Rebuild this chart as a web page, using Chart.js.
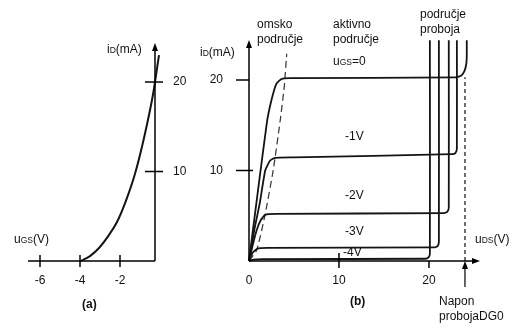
<!DOCTYPE html>
<html><head><meta charset="utf-8">
<script src="https://cdn.jsdelivr.net/npm/chart.js@4"></script>
<style>
html,body{margin:0;padding:0;background:#fff;}
#wrap{position:relative;width:527px;height:333px;overflow:hidden;font-family:"Liberation Sans",Arial,sans-serif;font-size:12px;color:#111;}
canvas{position:absolute;left:0;top:0;}
.t{position:absolute;white-space:nowrap;line-height:15px;}
.s{font-size:8.5px;}
.b{font-weight:bold;}
</style></head><body>
<div id="wrap">
<canvas id="ca" width="527" height="333"></canvas>
<canvas id="cb" width="527" height="333"></canvas>
<div class="t" style="left:107px;top:42px">i<span class="s">D</span>(mA)</div>
<div class="t" style="left:14px;top:232px">u<span class="s">GS</span>(V)</div>
<div class="t b" style="left:82px;top:297px">(a)</div>
<div class="t" style="left:200px;top:45px">i<span class="s">D</span>(mA)</div>
<div class="t" style="left:257px;top:17px">omsko<br>područje</div>
<div class="t" style="left:333px;top:17px">aktivno<br>područje</div>
<div class="t" style="left:333px;top:54px">u<span class="s">GS</span>=0</div>
<div class="t" style="left:420px;top:7px">područje<br>proboja</div>
<div class="t" style="left:345px;top:129px">-1V</div>
<div class="t" style="left:345px;top:188px">-2V</div>
<div class="t" style="left:345px;top:224px">-3V</div>
<div class="t" style="left:343px;top:245px">-4V</div>
<div class="t" style="left:475px;top:232px">u<span class="s">DS</span>(V)</div>
<div class="t b" style="left:350px;top:294px">(b)</div>
<div class="t" style="left:439px;top:294px">Napon<br>probojaDG0</div>
</div>
<script>
// ---------- (a) transfer characteristic ----------
const transferUGS = [-3.95, -3.5, -3.05, -2.6, -2.15, -1.7, -1.25, -0.8, -0.35, -0.05];
const transferID  = [0, 0.55, 1.45, 2.75, 4.35, 6.75, 9.75, 13.75, 18.6, 23.0];
const aXTicks = [-6, -4, -2];
const aYTicks = [10, 20];

// ---------- (b) output characteristics ----------
const uds_0V = [0, 1.0, 2.0, 2.5, 3.05, 3.6, 4.5, 23.0, 23.6, 23.95, 24.15, 24.2, 24.2];
const id_0V  = [0, 7.8, 15.4, 17.8, 19.6, 20.1, 20.2, 20.3, 20.5, 21.0, 21.8, 22.8, 24.4];
const uds_m1V = [0, 0.6, 1.2, 1.8, 2.35, 2.9, 5.0, 22.6, 22.95, 23.1, 23.1];
const id_m1V  = [0, 3.5, 6.4, 10.0, 11.1, 11.4, 11.45, 11.8, 11.95, 12.4, 24.4];
const uds_m2V = [0, 0.45, 0.85, 1.3, 1.8, 3.0, 21.7, 22.05, 22.2, 22.2];
const id_m2V  = [0, 1.9, 3.4, 4.5, 5.1, 5.2, 5.3, 5.45, 5.9, 24.4];
const uds_m3V = [0, 0.4, 0.9, 2.0, 20.6, 20.95, 21.1, 21.1];
const id_m3V  = [0, 0.9, 1.35, 1.45, 1.5, 1.65, 2.1, 24.4];
const uds_m4V = [0, 0.5, 1.5, 19.6, 19.95, 20.1, 20.1];
const id_m4V  = [0, 0.15, 0.2, 0.25, 0.4, 0.8, 24.4];
const boundaryUDS = [0, 0.85, 1.78, 2.7, 3.45, 3.92, 4.19];
const boundaryID  = [0, 1.2, 5.1, 10.1, 15.4, 19.3, 22.9];
const breakdownUDS = [24.0, 24.0];
const breakdownID  = [0, 20.3];
const bXTicks = [0, 10, 20];
const bYTicks = [10, 20];

const pts = (xs, ys) => xs.map((x, i) => ({x: x, y: ys[i]}));
const FONT = {family: 'Liberation Sans, Arial, sans-serif', size: 12};
const INK = '#141414';

function arrowHead(ctx, x, y, dir) {
  ctx.beginPath();
  if (dir === 'up') { ctx.moveTo(x, y); ctx.lineTo(x - 3, y + 8); ctx.lineTo(x + 3, y + 8); }
  else { ctx.moveTo(x, y); ctx.lineTo(x - 8, y - 3); ctx.lineTo(x - 8, y + 3); }
  ctx.closePath(); ctx.fill();
}
function seg(ctx, x1, y1, x2, y2) { ctx.beginPath(); ctx.moveTo(x1, y1); ctx.lineTo(x2, y2); ctx.stroke(); }

const axesA = {
  id: 'axesA',
  afterDatasetsDraw(chart) {
    const {ctx, chartArea: a, scales: {x, y}} = chart;
    const y0 = y.getPixelForValue(0);
    const xr = a.right;
    ctx.save();
    ctx.strokeStyle = '#000'; ctx.fillStyle = '#000'; ctx.lineWidth = 1.5;
    seg(ctx, a.left, y0, xr, y0);
    seg(ctx, xr, y0, xr, a.top + 6);
    arrowHead(ctx, xr, a.top, 'up');
    aXTicks.forEach(v => { const px = x.getPixelForValue(v); seg(ctx, px, y0 - 6, px, y0 + 6); });
    aYTicks.forEach(v => { const py = y.getPixelForValue(v); seg(ctx, xr - 10, py, xr + 8, py); });
    ctx.restore();
  }
};

const axesB = {
  id: 'axesB',
  afterDatasetsDraw(chart) {
    const {ctx, chartArea: a, scales: {x, y}} = chart;
    const x0 = x.getPixelForValue(0), y0 = y.getPixelForValue(0);
    ctx.save();
    ctx.strokeStyle = '#000'; ctx.fillStyle = '#000'; ctx.lineWidth = 1.5;
    seg(ctx, x0, y0, x0, a.top + 6);
    arrowHead(ctx, x0, a.top, 'up');
    seg(ctx, x0, y0, a.right - 6, y0);
    arrowHead(ctx, a.right, y0, 'right');
    bYTicks.forEach(v => { const py = y.getPixelForValue(v); seg(ctx, x0 - 13, py, x0 + (v === 10 ? 4 : 0), py); });
    bXTicks.forEach(v => {
      if (v === 0) return;
      const px = x.getPixelForValue(v);
      seg(ctx, px, y0 - (v === 10 ? 8 : 0), px, y0 + 7);
    });
    // breakdown-voltage pointer
    const pb = x.getPixelForValue(breakdownUDS[0]);
    ctx.lineWidth = 1.2;
    seg(ctx, pb, y0 + 26, pb, y0 + 6);
    arrowHead(ctx, pb, y0, 'up');
    ctx.restore();
  }
};

const curve = (xs, ys) => ({data: pts(xs, ys), borderColor: INK, borderWidth: 1.8, pointRadius: 0, tension: 0.15, fill: false, clip: false});

new Chart(document.getElementById('ca'), {
  type: 'line',
  data: {datasets: [{data: pts(transferUGS, transferID), borderColor: INK, borderWidth: 2, pointRadius: 0,
    cubicInterpolationMode: 'monotone', fill: false, clip: false}]},
  options: {
    responsive: false, animation: false, events: [],
    layout: {padding: {left: 28, right: 332, top: 43, bottom: 42}},
    plugins: {legend: {display: false}, tooltip: {enabled: false}},
    scales: {
      x: {type: 'linear', position: 'bottom', min: -6.6, max: -0.25,
        grid: {display: false, drawTicks: false}, border: {display: false},
        afterBuildTicks: s => { s.ticks = aXTicks.map(v => ({value: v})); },
        afterFit: s => { s.height = 30; },
        ticks: {padding: 12, color: '#111', font: FONT, maxRotation: 0, autoSkip: false}},
      y: {type: 'linear', position: 'right', min: 0, max: 24.36,
        grid: {display: false, drawTicks: false}, border: {display: false},
        afterBuildTicks: s => { s.ticks = aYTicks.map(v => ({value: v})); },
        afterFit: s => { s.width = 40; },
        ticks: {padding: 18, color: '#111', font: FONT, autoSkip: false}}
    }
  },
  plugins: [axesA]
});

new Chart(document.getElementById('cb'), {
  type: 'line',
  data: {datasets: [
    curve(uds_0V, id_0V), curve(uds_m1V, id_m1V), curve(uds_m2V, id_m2V),
    curve(uds_m3V, id_m3V), curve(uds_m4V, id_m4V),
    {data: pts(boundaryUDS, boundaryID), borderColor: '#333', borderWidth: 1.2, borderDash: [7, 4], pointRadius: 0, tension: 0.2, fill: false, clip: false},
    {data: pts(breakdownUDS, breakdownID), borderColor: '#111', borderWidth: 1.2, borderDash: [4, 3], pointRadius: 0, fill: false, clip: false}
  ]},
  options: {
    responsive: false, animation: false, events: [],
    layout: {padding: {left: 209, right: 47, top: 40, bottom: 42}},
    plugins: {legend: {display: false}, tooltip: {enabled: false}},
    scales: {
      x: {type: 'linear', position: 'bottom', min: 0, max: 25.67,
        grid: {display: false, drawTicks: false}, border: {display: false},
        afterBuildTicks: s => { s.ticks = bXTicks.map(v => ({value: v})); },
        afterFit: s => { s.height = 30; },
        ticks: {padding: 12, color: '#111', font: FONT, maxRotation: 0, autoSkip: false}},
      y: {type: 'linear', position: 'left', min: 0, max: 24.42,
        grid: {display: false, drawTicks: false}, border: {display: false},
        afterBuildTicks: s => { s.ticks = bYTicks.map(v => ({value: v})); },
        afterFit: s => { s.width = 40; },
        ticks: {padding: 26, color: '#111', font: FONT, autoSkip: false}}
    }
  },
  plugins: [axesB]
});
</script>
</body></html>
